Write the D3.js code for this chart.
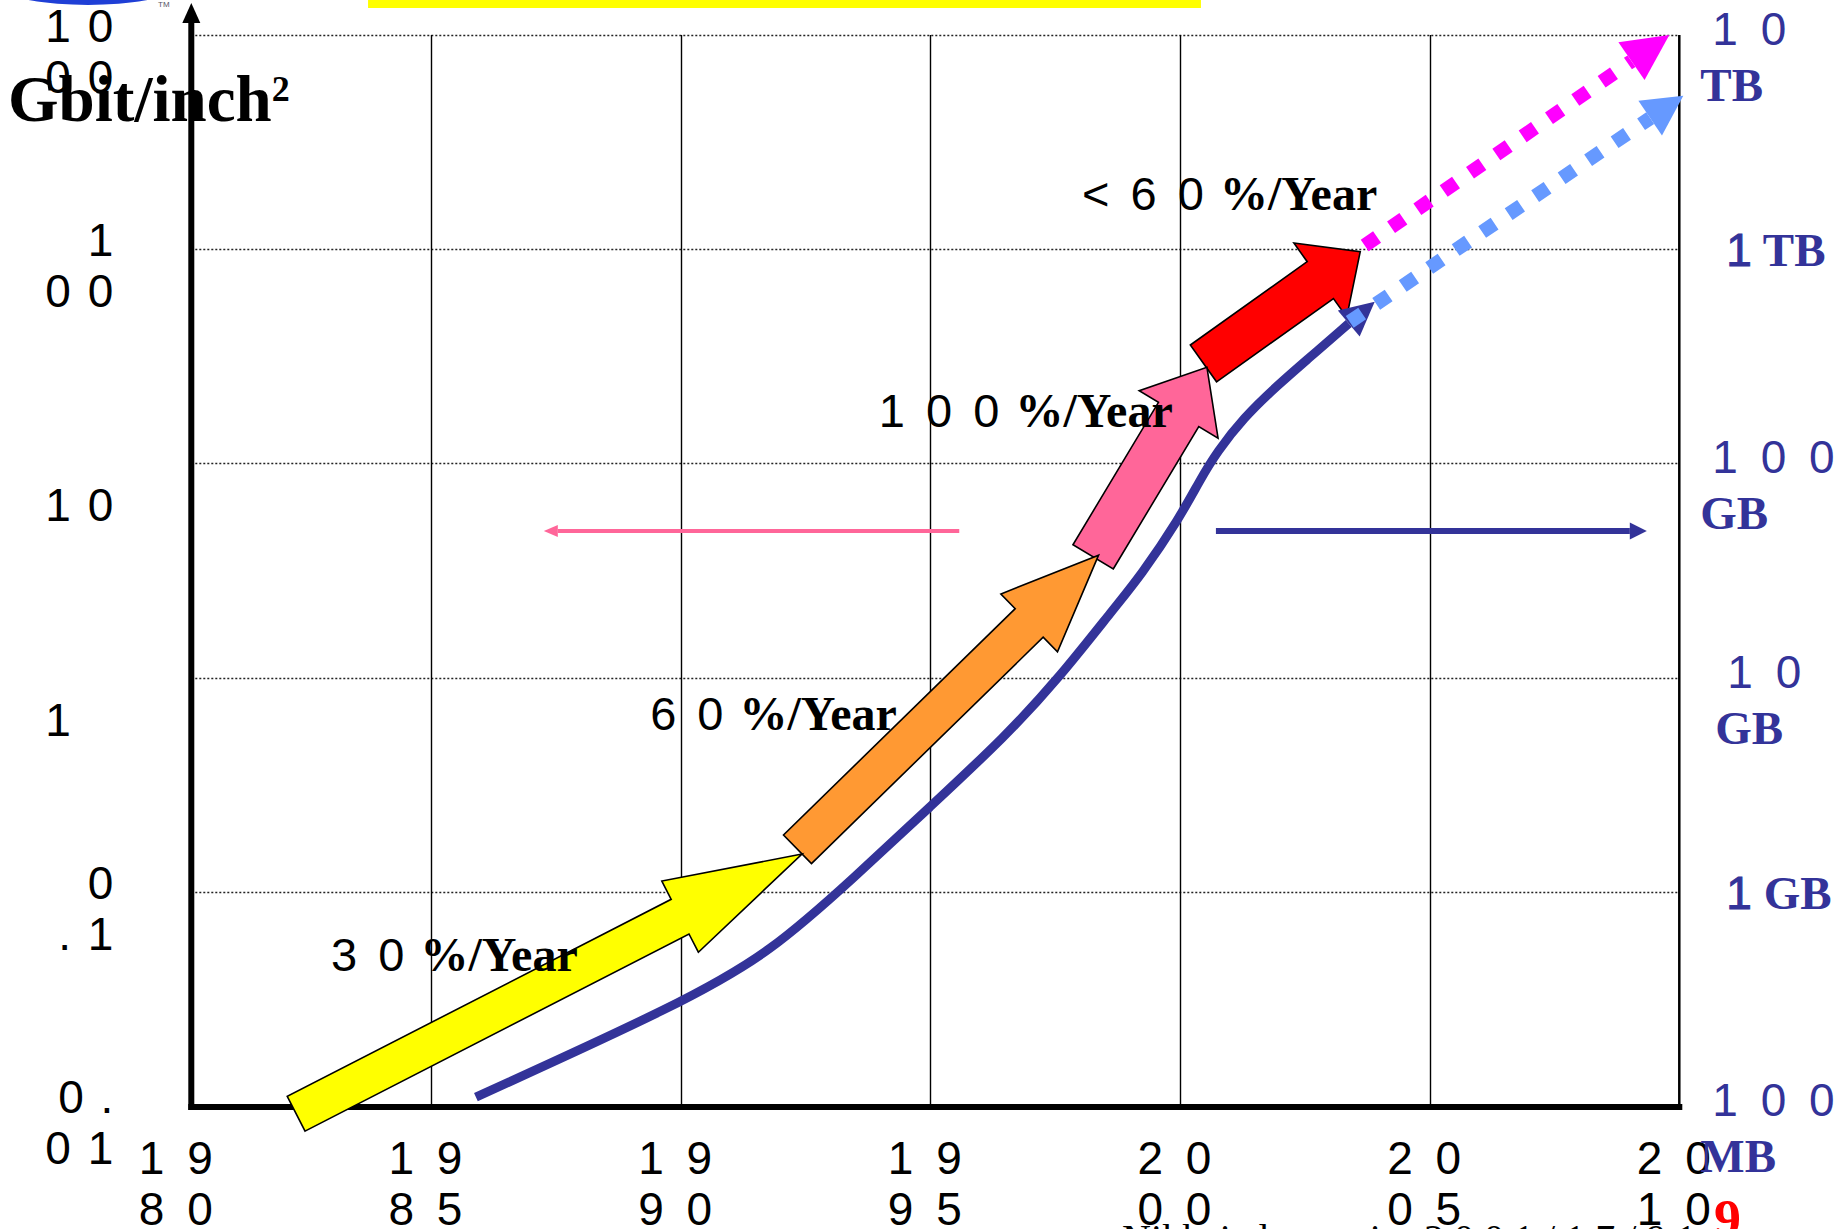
<!DOCTYPE html>
<html><head><meta charset="utf-8">
<script src="https://cdn.jsdelivr.net/npm/d3@7"></script>
<style>
html,body{margin:0;padding:0;background:#fff;overflow:hidden}
svg{display:block}
</style></head><body>
<svg id="chart" width="1845" height="1229"></svg>
<script>
// ---- values ----
const years = [1980, 1985, 1990, 1995, 2000, 2005, 2010];
const yearLabels = [["1 9","8 0"],["1 9","8 5"],["1 9","9 0"],["1 9","9 5"],["2 0","0 0"],["2 0","0 5"],["2 0","1 0"]];

// areal density, Gbit/inch²
const densityTicks = [1000, 100, 10, 1, 0.1, 0.01];
const densityLabels = [["1 0","0 0"],["1","0 0"],["","1 0"],["","1\u00a0\u2007"],["0",". 1"],["0 .","0 1"]];

// drive capacity, GB
const capacityTicks = [10000, 1000, 100, 10, 1, 0.1];
const capacityNumbers = ["1 0", "1", "1 0 0", "1 0", "1", "1 0 0"];
const capacityUnits = ["TB", "TB", "GB", "GB", "GB", "MB"];

// growth-rate trend arrows: [year, Gbit/inch²]
const trendRates = ["3 0", "6 0", "1 0 0", "< 6 0"];
const trendStart = [[1982.3, 0.0092], [1992.34, 0.158], [1998.26, 3.66], [2000.47, 29.3]];
const trendEnd   = [[1992.43, 0.150], [1998.37, 3.73], [2000.54, 28.1], [2003.61, 97.4]];

// density projection beyond the trend arrows
const densityProjection = [[2003.7, 104], [2009.8, 1000]];

// capacity history: [year, GB]
const capacityHistory = [
  [1985.9, 0.11], [1990.0, 0.30], [1991.8, 0.52], [1993.5, 1.18],
  [1995.0, 2.5], [1996.5, 5.3], [1997.6, 10.1], [1998.7, 21.4], [1999.2, 29.6],
  [2000.0, 56], [2000.4, 83.6], [2000.74, 113], [2001.27, 163],
  [2001.94, 230], [2002.54, 304], [2003.38, 450]
];
const capacityTip = [2003.9, 569];
const capacityProjection = [[2003.4, 458], [2010.08, 5208]];

// axis pointers: from year, to year, level
const densityPointer = [1995.58, 1987.26, 4.83];   // Gbit/inch²
const capacityPointer = [2000.72, 2009.35, 48.3];  // GB

// ---- layout ----
const svg = d3.select("#chart");
const x = d3.scaleLinear().domain([1980, 2010]).range([181.3, 1679.3]);
const y = d3.scaleLog().domain([0.01, 1000]).range([1106, 35]);
const yR = d3.scaleLog().domain([0.1, 10000]).range([1106, 35]);

const SANS = "'Liberation Sans', Arial, sans-serif";
const SERIF = "'Liberation Serif', 'Times New Roman', serif";
const NAVY = "#333399";

const axisX = x(1980) + 10;   // vertical density axis sits just right of 1980
const plotTop = y(1000), plotBottom = y(0.01), plotRight = x(2010);

// logo remnant and banner strip along the top edge
svg.append("ellipse").attr("cx", 88).attr("cy", -10).attr("rx", 80).attr("ry", 15)
  .attr("fill", "#1f3fd6");
svg.append("text").attr("x", 158).attr("y", 7).attr("font-family", SANS)
  .attr("font-size", 8).attr("fill", "#556").text("TM");
svg.append("rect").attr("x", x(1983.74)).attr("y", 0)
  .attr("width", x(2000.42) - x(1983.74)).attr("height", 8).attr("fill", "#FFFF00");

// horizontal dotted grid
svg.append("g").selectAll("line").data(densityTicks.filter(d => d > 0.01)).join("line")
  .attr("x1", axisX).attr("x2", plotRight)
  .attr("y1", d => Math.round(y(d)) + 0.5).attr("y2", d => Math.round(y(d)) + 0.5)
  .attr("stroke", "#222").attr("stroke-width", 1.3).attr("stroke-dasharray", "2,2");

// vertical grid
svg.append("g").selectAll("line").data(years.slice(1, -1)).join("line")
  .attr("x1", d => Math.round(x(d)) + 0.5).attr("x2", d => Math.round(x(d)) + 0.5)
  .attr("y1", plotTop).attr("y2", plotBottom)
  .attr("stroke", "#000").attr("stroke-width", 1.4);

// right axis
svg.append("line").attr("x1", plotRight).attr("x2", plotRight).attr("y1", plotTop).attr("y2", plotBottom + 3)
  .attr("stroke", "#000").attr("stroke-width", 2.5);

// left axis with arrow
svg.append("line").attr("x1", axisX).attr("x2", axisX).attr("y1", 18).attr("y2", plotBottom + 4)
  .attr("stroke", "#000").attr("stroke-width", 6);
svg.append("path").attr("d", `M${axisX},3 L${axisX - 9},23 L${axisX + 9},23 Z`).attr("fill", "#000");

// bottom axis
svg.append("line").attr("x1", axisX - 3).attr("x2", plotRight + 3).attr("y1", plotBottom + 1).attr("y2", plotBottom + 1)
  .attr("stroke", "#000").attr("stroke-width", 6);

// ---- axis labels ----
const yearG = svg.append("g").attr("font-family", SANS).attr("font-size", 46)
  .attr("letter-spacing", 5).attr("fill", "#000").attr("text-anchor", "middle");
years.forEach((yr, i) => {
  yearLabels[i].forEach((txt, j) => {
    yearG.append("text").attr("x", x(yr) - 3).attr("y", plotBottom + 68 + j * 51).text(txt);
  });
});

const denG = svg.append("g").attr("font-family", SANS).attr("font-size", 46)
  .attr("letter-spacing", 2).attr("fill", "#000").attr("text-anchor", "end")
  .style("white-space", "pre");
densityTicks.forEach((v, i) => {
  densityLabels[i].forEach((txt, j) => {
    if (txt) denG.append("text").attr("x", x(1980) - 66).attr("y", y(v) + 7 + j * 51).text(txt);
  });
});

// per-label indent of the capacity labels
const capacityIndent = [0, 0, 0, 15, 0, 0];
const capG = svg.append("g").attr("fill", NAVY);
capacityTicks.forEach((v, i) => {
  const num = capacityNumbers[i], unit = capacityUnits[i], dx = capacityIndent[i];
  if (num === "1") {
    const t = capG.append("text").attr("x", plotRight + 47).attr("y", yR(v) + 17);
    t.append("tspan").attr("font-family", SANS).attr("font-size", 46).attr("stroke", NAVY)
      .attr("stroke-width", 1).text(num);
    t.append("tspan").attr("font-family", SERIF).attr("font-weight", "bold").attr("font-size", 47).text(" " + unit);
  } else {
    capG.append("text").attr("x", plotRight + 33 + dx).attr("y", yR(v) + 10)
      .attr("font-family", SANS).attr("font-size", 46).attr("letter-spacing", 5).text(num);
    capG.append("text").attr("x", plotRight + 21 + dx).attr("y", yR(v) + 66)
      .attr("font-family", SERIF).attr("font-weight", "bold").attr("font-size", 47).text(unit);
  }
});

// unit title
const title = svg.append("text").attr("x", 8).attr("y", 121)
  .attr("font-family", SERIF).attr("font-weight", "bold").attr("font-size", 65).attr("fill", "#000");
title.append("tspan").text("Gbit/inch");
title.append("tspan").attr("font-size", 36).attr("dy", -20).text("2");

// ---- trend arrows ----
const trendStyle = [
  {fill: "#FFFF00", shaft: 19.5, head: 40, headLen: 137},
  {fill: "#FF9933", shaft: 20, head: 40.5, headLen: 97},
  {fill: "#FF6699", shaft: 23.5, head: 46, headLen: 55},
  {fill: "#FF0000", shaft: 22.6, head: 45.5, headLen: 49}
];
function blockArrow(s, e, st) {
  const dx = e[0] - s[0], dy = e[1] - s[1], L = Math.hypot(dx, dy);
  const ux = dx / L, uy = dy / L, nx = -uy, ny = ux;
  const hx = e[0] - ux * st.headLen, hy = e[1] - uy * st.headLen;
  const p = (bx, by, k) => [bx + nx * k, by + ny * k];
  return [p(s[0], s[1], st.shaft), p(hx, hy, st.shaft), p(hx, hy, st.head), e,
          p(hx, hy, -st.head), p(hx, hy, -st.shaft), p(s[0], s[1], -st.shaft)];
}
const arrowG = svg.append("g");
for (let i = trendStart.length - 1; i >= 0; i--) {
  const s = [x(trendStart[i][0]), y(trendStart[i][1])];
  const e = [x(trendEnd[i][0]), y(trendEnd[i][1])];
  arrowG.append("polygon").attr("points", blockArrow(s, e, trendStyle[i]).map(p => p.join(",")).join(" "))
    .attr("fill", trendStyle[i].fill).attr("stroke", "#000").attr("stroke-width", 1.6)
    .attr("stroke-linejoin", "miter");
}

// ---- capacity curve ----
const capLine = d3.line().x(d => x(d[0])).y(d => yR(d[1])).curve(d3.curveBasis);
svg.append("path").attr("d", capLine(capacityHistory)).attr("fill", "none")
  .attr("stroke", NAVY).attr("stroke-width", 9).attr("stroke-linejoin", "round");

function headAt(base, tip, halfW) {
  const dx = tip[0] - base[0], dy = tip[1] - base[1], L = Math.hypot(dx, dy);
  const nx = -dy / L, ny = dx / L;
  return `M${tip[0]},${tip[1]} L${base[0] + nx * halfW},${base[1] + ny * halfW} L${base[0] - nx * halfW},${base[1] - ny * halfW} Z`;
}
const capEnd = capacityHistory[capacityHistory.length - 1];
svg.append("path").attr("d", headAt([x(capEnd[0]), yR(capEnd[1])], [x(capacityTip[0]), yR(capacityTip[1])], 17))
  .attr("fill", NAVY);

// ---- dotted projections ----
function dottedArrow(a, b, color, headLen, halfW) {
  const dx = b[0] - a[0], dy = b[1] - a[1], L = Math.hypot(dx, dy);
  const base = [b[0] - dx / L * headLen, b[1] - dy / L * headLen];
  svg.append("line").attr("x1", a[0]).attr("y1", a[1]).attr("x2", base[0]).attr("y2", base[1])
    .attr("stroke", color).attr("stroke-width", 14).attr("stroke-dasharray", "15,17");
  svg.append("path").attr("d", headAt(base, b, halfW)).attr("fill", color);
}
dottedArrow([x(capacityProjection[0][0]), yR(capacityProjection[0][1])],
            [x(capacityProjection[1][0]), yR(capacityProjection[1][1])], "#6699FF", 40, 21);
dottedArrow([x(densityProjection[0][0]), y(densityProjection[0][1])],
            [x(densityProjection[1][0]), y(densityProjection[1][1])], "#FF00FF", 46, 23);

// ---- axis pointers ----
function pointer(x1, x2, yy, color, w, headLen, halfW) {
  const dir = Math.sign(x2 - x1);
  svg.append("line").attr("x1", x1).attr("x2", x2 - dir * headLen).attr("y1", yy).attr("y2", yy)
    .attr("stroke", color).attr("stroke-width", w);
  svg.append("path").attr("d", `M${x2},${yy} L${x2 - dir * headLen},${yy - halfW} L${x2 - dir * headLen},${yy + halfW} Z`)
    .attr("fill", color);
}
pointer(x(densityPointer[0]), x(densityPointer[1]), y(densityPointer[2]), "#FF6699", 4, 14, 6);
pointer(x(capacityPointer[0]), x(capacityPointer[1]), yR(capacityPointer[2]), NAVY, 6, 17, 8.5);

// ---- rate labels ----
const rateLabelAt = [[1983.0, 0.0427], [1989.39, 0.569], [1993.97, 14.8], [1998.04, 152.4]];
trendRates.forEach((r, i) => {
  const t = svg.append("text").attr("x", x(rateLabelAt[i][0])).attr("y", y(rateLabelAt[i][1])).attr("fill", "#000");
  t.append("tspan").attr("font-family", SANS).attr("font-size", 47).attr("letter-spacing", 4).text(r);
  t.append("tspan").attr("font-family", SERIF).attr("font-weight", "bold").attr("font-size", 48).text(" %/Year");
});

// ---- source line along the bottom edge ----
svg.append("text").attr("x", 1122).attr("y", 1252).attr("font-family", SERIF).attr("font-size", 40)
  .attr("fill", "#000").text("Nikkei electronics 2 0 0 1 / 1 7 / 9 1");
svg.append("text").attr("x", 1714).attr("y", 1237).attr("font-family", SERIF).attr("font-weight", "bold")
  .attr("font-size", 54).attr("fill", "#FF0000").text("9");
</script>
</body></html>
